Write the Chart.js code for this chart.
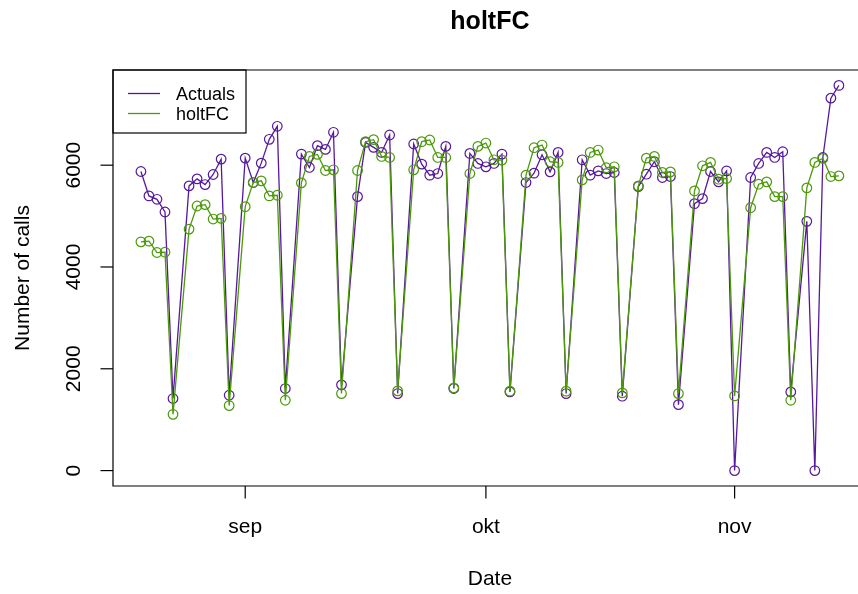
<!DOCTYPE html>
<html>
<head>
<meta charset="utf-8">
<script src="https://cdn.jsdelivr.net/npm/chart.js@4/dist/chart.umd.min.js"></script>
<style>
  html, body { margin: 0; padding: 0; background: #ffffff; }
  canvas { display: block; }
</style>
</head>
<body>
<canvas id="graphique" width="858" height="594"></canvas>
<script>
// --- DONNEES ---
const annee = 2014;
// jours ouvrés + samedi (pas de dimanche)
const dates = [
  '08-19','08-20','08-21','08-22','08-23',
  '08-25','08-26','08-27','08-28','08-29','08-30',
  '09-01','09-02','09-03','09-04','09-05','09-06',
  '09-08','09-09','09-10','09-11','09-12','09-13',
  '09-15','09-16','09-17','09-18','09-19','09-20',
  '09-22','09-23','09-24','09-25','09-26','09-27',
  '09-29','09-30','10-01','10-02','10-03','10-04',
  '10-06','10-07','10-08','10-09','10-10','10-11',
  '10-13','10-14','10-15','10-16','10-17','10-18',
  '10-20','10-21','10-22','10-23','10-24','10-25',
  '10-27','10-28','10-29','10-30','10-31','11-01',
  '11-03','11-04','11-05','11-06','11-07','11-08',
  '11-10','11-11','11-12','11-13','11-14'
];
const actuals = [
  5876, 5396, 5330, 5080, 1415,
  5593, 5731, 5619, 5817, 6119, 1480,
  6139, 5659, 6040, 6508, 6764, 1612,
  6218, 5955, 6383, 6310, 6646, 1684,
  5382, 6448, 6350, 6251, 6593, 1513,
  6416, 6021, 5804, 5836, 6369, 1612,
  6231, 6034, 5968, 6034, 6218, 1546,
  5659, 5843, 6205, 5869, 6251, 1513,
  6106, 5804, 5889, 5836, 5856, 1461,
  5580, 5823, 6067, 5758, 5777, 1296,
  5244, 5343, 5876, 5672, 5889, 0,
  5758, 6034, 6251, 6152, 6264, 1546,
  4896, 0, 6152, 7317, 7567
];
const holtFC = [
  4494, 4507, 4284, 4290, 1105,
  4744, 5198, 5225, 4942, 4955, 1277,
  5185, 5659, 5692, 5396, 5409, 1382,
  5652, 6172, 6212, 5896, 5909, 1513,
  5896, 6462, 6501, 6172, 6152, 1566,
  5909, 6462, 6495, 6152, 6152, 1625,
  5836, 6369, 6435, 6106, 6100, 1560,
  5804, 6343, 6396, 6067, 6054, 1560,
  5711, 6251, 6297, 5950, 5968, 1527,
  5593, 6139, 6172, 5856, 5869, 1513,
  5494, 5988, 6054, 5725, 5738, 1467,
  5165, 5626, 5672, 5382, 5382, 1382,
  5554, 6054, 6133, 5777, 5790
];
const moisTicks = ['09-01', '10-01', '11-01'];
const moisLabels = ['sep', 'okt', 'nov'];
const yTicks = [0, 2000, 4000, 6000];

const couleurActuals = '#56189c';
const couleurHolt = '#4c9a0a';
const police = '"Liberation Sans", Arial, Helvetica, sans-serif';

// jours depuis le 1er septembre
const origine = Date.UTC(annee, 8, 1);
function jour(d) {
  const p = d.split('-');
  return (Date.UTC(annee, +p[0] - 1, +p[1]) - origine) / 86400000;
}
const xs = dates.map(jour);

// --- AXES ET TEXTES FACON R ---
const axesR = {
  id: 'axesR',
  afterDatasetsDraw(chart) {
    const ctx = chart.ctx;
    const a = chart.chartArea;
    const sx = chart.scales.x, sy = chart.scales.y;
    ctx.save();
    ctx.strokeStyle = '#000';
    ctx.fillStyle = '#000';
    ctx.lineWidth = 1.2;

    // cadre (bord droit hors image)
    ctx.beginPath();
    ctx.moveTo(a.right + 20, a.top);
    ctx.lineTo(a.left, a.top);
    ctx.lineTo(a.left, a.bottom);
    ctx.lineTo(a.right + 20, a.bottom);
    ctx.stroke();

    // axe x
    ctx.font = '21px ' + police;
    ctx.textAlign = 'center';
    ctx.textBaseline = 'alphabetic';
    moisTicks.forEach((m, i) => {
      const px = sx.getPixelForValue(jour(m));
      ctx.beginPath();
      ctx.moveTo(px, a.bottom);
      ctx.lineTo(px, a.bottom + 12.5);
      ctx.stroke();
      ctx.fillText(moisLabels[i], px, 533);
    });

    // axe y (labels verticaux)
    yTicks.forEach(v => {
      const py = sy.getPixelForValue(v);
      ctx.beginPath();
      ctx.moveTo(a.left, py);
      ctx.lineTo(a.left - 12.5, py);
      ctx.stroke();
      ctx.save();
      ctx.translate(80, py);
      ctx.rotate(-Math.PI / 2);
      ctx.fillText(String(v), 0, 0);
      ctx.restore();
    });

    // titres
    const cx = (a.left + sx.getPixelForValue(77.48)) / 2;
    ctx.fillText('Date', cx, 585);
    ctx.save();
    ctx.translate(29, (a.top + a.bottom) / 2);
    ctx.rotate(-Math.PI / 2);
    ctx.fillText('Number of calls', 0, 0);
    ctx.restore();

    ctx.font = 'bold 25px ' + police;
    ctx.fillText('holtFC', cx, 29);

    // légende
    ctx.lineWidth = 1.2;
    ctx.strokeRect(a.left, a.top, 133, 63);
    ctx.font = '18px ' + police;
    ctx.textAlign = 'left';
    [['Actuals', couleurActuals, 93.5], ['holtFC', couleurHolt, 113.5]].forEach(([txt, col, ly]) => {
      ctx.strokeStyle = col;
      ctx.lineWidth = 1.3;
      ctx.beginPath();
      ctx.moveTo(128, ly);
      ctx.lineTo(160, ly);
      ctx.stroke();
      ctx.fillText(txt, 176, ly + 6.5);
    });
    ctx.restore();
  }
};

// --- GRAPHIQUE ---
const ctx = document.getElementById('graphique').getContext('2d');
new Chart(ctx, {
  type: 'line',
  data: {
    datasets: [
      {
        label: 'Actuals',
        data: xs.map((x, i) => ({ x: x, y: actuals[i] })),
        borderColor: couleurActuals,
        backgroundColor: 'transparent',
        pointBorderColor: couleurActuals,
        borderWidth: 1.3,
        pointRadius: 4.8,
        pointBorderWidth: 1.2,
        tension: 0,
        order: 2
      },
      {
        label: 'holtFC',
        data: xs.map((x, i) => ({ x: x, y: holtFC[i] })),
        borderColor: couleurHolt,
        backgroundColor: 'transparent',
        pointBorderColor: couleurHolt,
        borderWidth: 1.3,
        pointRadius: 4.8,
        pointBorderWidth: 1.2,
        tension: 0,
        order: 1
      }
    ]
  },
  options: {
    responsive: false,
    animation: false,
    devicePixelRatio: 1,
    layout: { autoPadding: false, padding: { left: 113, top: 70, right: 0, bottom: 108 } },
    scales: {
      x: { type: 'linear', display: false, min: -16.48, max: 76.38 },
      y: { type: 'linear', display: false, min: -303, max: 7870 }
    },
    plugins: {
      legend: { display: false },
      tooltip: { enabled: false },
      title: { display: false }
    }
  },
  plugins: [axesR]
});
</script>
</body>
</html>
